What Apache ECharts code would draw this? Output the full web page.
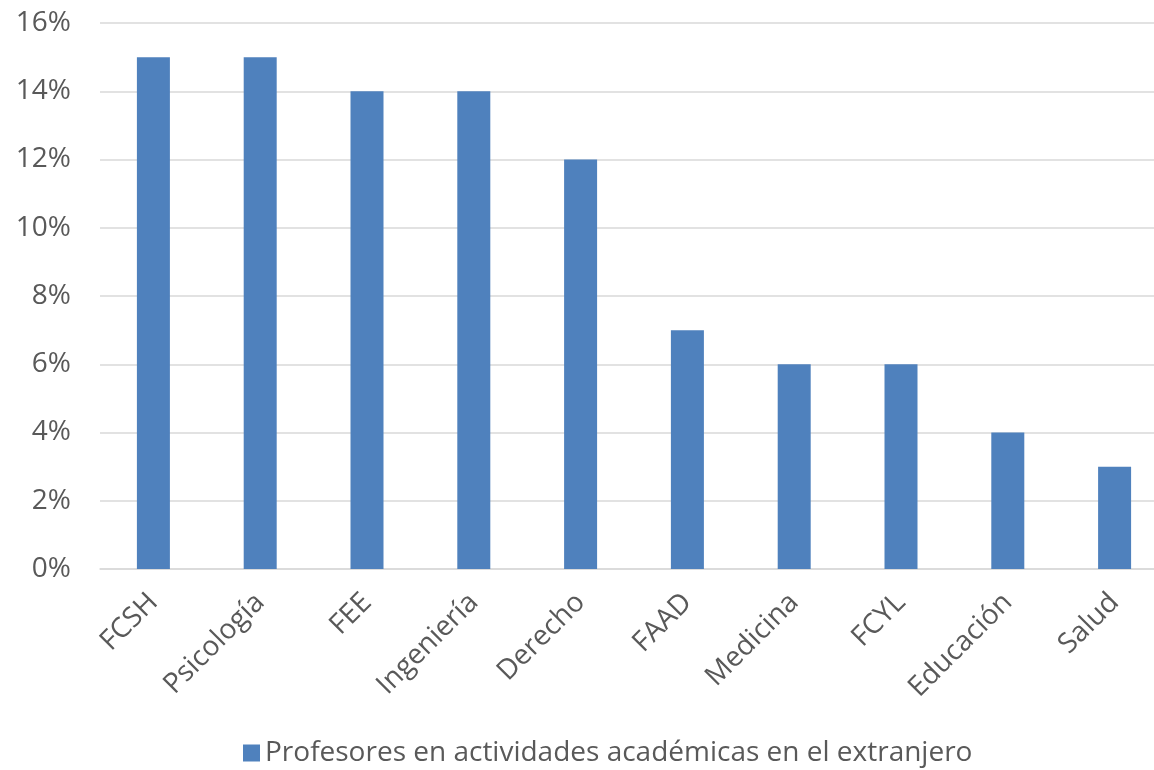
<!DOCTYPE html>
<html>
<head>
<meta charset="utf-8">
<script src="https://cdn.jsdelivr.net/npm/echarts@6/dist/echarts.min.js"></script>
<style>
html,body{margin:0;padding:0;background:#fff;overflow:hidden;width:1154px;height:770px;}
#chart{width:1170px;height:770px;}
</style>
</head>
<body>
<div id="chart"></div>
<script>
// Faculties and share of professors doing academic activities abroad (%)
const categories = ['FCSH','Psicología','FEE','Ingeniería','Derecho','FAAD','Medicina','FCYL','Educación','Salud'];
const values = [15, 15, 14, 14, 12, 7, 6, 6, 4, 3];
const seriesName = 'Profesores en actividades académicas en el extranjero';

const textColor = '#595959';
const fontFamily = '"Open Sans", "Liberation Sans", sans-serif';

// The plot runs slightly past the right edge of the visible page, so the
// canvas is a little wider than the window and the overflow is clipped.
const chart = echarts.init(document.getElementById('chart'));
chart.setOption({
  animation: false,
  grid: { left: 100, width: 1068, top: 23, height: 546, containLabel: false },
  legend: {
    bottom: -2,
    left: 238,
    itemWidth: 17,
    itemHeight: 17,
    itemGap: 9,
    icon: 'rect',
    textStyle: { color: textColor, fontSize: 28, fontFamily: fontFamily },
    data: [seriesName]
  },
  xAxis: {
    type: 'category',
    data: categories,
    axisLine: { lineStyle: { color: '#D9D9D9', width: 1.5 } },
    axisTick: { show: false },
    axisLabel: { rotate: 45, color: textColor, fontSize: 28, fontFamily: fontFamily, margin: 29, interval: 0 }
  },
  yAxis: {
    type: 'value',
    min: 0,
    max: 16,
    interval: 2,
    axisLine: { show: false },
    axisTick: { show: false },
    splitLine: { lineStyle: { color: '#D9D9D9', width: 1.5 } },
    axisLabel: { color: textColor, fontSize: 28, fontFamily: fontFamily, margin: 29, formatter: v => v + '%' }
  },
  series: [{
    name: seriesName,
    type: 'bar',
    data: values,
    barWidth: 33,
    itemStyle: { color: '#4F81BD' }
  }]
});
</script>
</body>
</html>
